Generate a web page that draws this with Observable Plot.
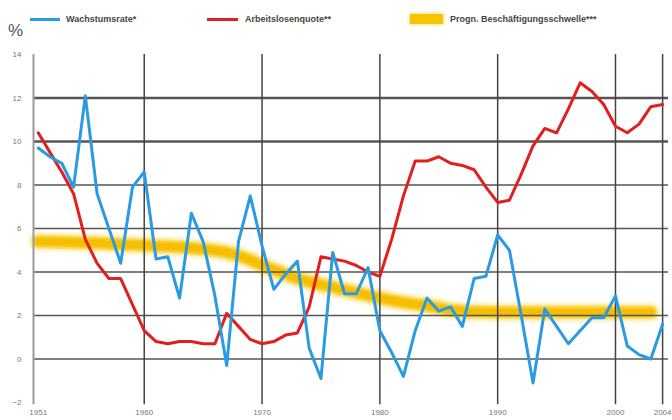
<!DOCTYPE html>
<html>
<head>
<meta charset="utf-8">
<script src="https://cdn.jsdelivr.net/npm/d3@7"></script>
<script src="https://cdn.jsdelivr.net/npm/@observablehq/plot@0.6"></script>
<style>
  html, body { margin: 0; padding: 0; background: #fff; }
  body { width: 672px; height: 420px; overflow: hidden; font-family: "Liberation Sans", Arial, sans-serif; }
  #head { position: relative; width: 672px; height: 40px; }
  #head .sw { position: absolute; }
  #head .lab { position: absolute; font-size: 9px; font-weight: bold; color: #444; line-height: 11px; white-space: nowrap; }
  #pct { position: absolute; left: 8px; top: 21px; font-size: 17px; color: #555; line-height: 19px; }
</style>
</head>
<body>
<div id="head">
  <div class="sw" style="left:30px;top:18px;width:30px;height:3px;background:#2a9be3;"></div>
  <div class="lab" style="left:66px;top:14px;">Wachstumsrate*</div>
  <div class="sw" style="left:207px;top:18px;width:31px;height:3px;background:#e0201e;"></div>
  <div class="lab" style="left:245px;top:14px;">Arbeitslosenquote**</div>
  <div class="sw" style="left:410px;top:14px;width:33px;height:10px;background:#f7c400;box-shadow:0 0 3px 1px rgba(247,196,0,0.5);"></div>
  <div class="lab" style="left:450px;top:14px;">Progn. Beschäftigungsschwelle***</div>
  <div id="pct">%</div>
</div>
<div id="chart"></div>
<script>
const years = [1951,1952,1953,1954,1955,1956,1957,1958,1959,1960,
  1961,1962,1963,1964,1965,1966,1967,1968,1969,1970,
  1971,1972,1973,1974,1975,1976,1977,1978,1979,1980,
  1981,1982,1983,1984,1985,1986,1987,1988,1989,1990,
  1991,1992,1993,1994,1995,1996,1997,1998,1999,2000,
  2001,2002,2003,2004];

const growth = [9.7,9.3,9.0,7.9,12.1,7.6,6.0,4.4,7.9,8.6,
  4.6,4.7,2.8,6.7,5.4,2.9,-0.3,5.4,7.5,5.2,
  3.2,3.9,4.5,0.5,-0.9,4.9,3.0,3.0,4.2,1.3,
  0.3,-0.8,1.3,2.8,2.2,2.4,1.5,3.7,3.8,5.7,
  5.0,2.0,-1.1,2.3,1.5,0.7,1.3,1.9,1.9,2.9,
  0.6,0.2,0.0,1.6];

const unemployment = [10.4,9.5,8.6,7.6,5.5,4.4,3.7,3.7,2.5,1.3,
  0.8,0.7,0.8,0.8,0.7,0.7,2.1,1.5,0.9,0.7,
  0.8,1.1,1.2,2.4,4.7,4.6,4.5,4.3,4.0,3.8,
  5.5,7.5,9.1,9.1,9.3,9.0,8.9,8.7,7.9,7.2,
  7.3,8.5,9.8,10.6,10.4,11.5,12.7,12.3,11.7,10.7,
  10.4,10.8,11.6,11.7];

const thresholdYears = [1951,1953,1955,1957,1959,1961,1963,1965,1967,1968,1969,1970,
  1971,1972,1973,1974,1975,1976,1977,1978,1979,1980,1981,1982,1983,1984,1985,1986,
  1987,1988,1990,1995,2000,2003];
const thresholdValues = [5.4,5.38,5.35,5.3,5.25,5.2,5.15,5.05,4.9,4.75,4.55,4.3,
  4.1,3.9,3.7,3.55,3.42,3.3,3.17,3.05,2.92,2.8,2.7,2.6,2.52,2.45,2.35,2.25,
  2.2,2.17,2.15,2.15,2.15,2.15];

const xTickLabels = [1951,1960,1970,1980,1990,2000,2004];
const verticalGrid = [1960,1970,1980,1990,2000,2004];
const yTickLabels = [-2,0,2,4,6,8,10,12,14];
const horizontalGrid = [0,2,4,6,8,10,12];
const xDomain = [1950.6, 2004.5];
const yDomain = [-2, 14];

const growthData = years.map((y, i) => ({year: y, value: growth[i]}));
const unempData = years.map((y, i) => ({year: y, value: unemployment[i]}));
const bandData = thresholdYears.map((y, i) => ({year: y, value: thresholdValues[i]}));

// layered strokes give the soft, blurred look of the threshold band
const bandLayers = [
  {w: 22, o: 0.12, c: "#fbd84a"},
  {w: 18, o: 0.22, c: "#f9d030"},
  {w: 14, o: 0.45, c: "#f8c800"},
  {w: 10, o: 0.75, c: "#f7c200"},
  {w: 6,  o: 0.9,  c: "#f5bd00"}
];

const chart = Plot.plot({
  width: 672,
  height: 380,
  marginTop: 14,
  marginBottom: 18,
  marginLeft: 33,
  marginRight: 4,
  style: {fontFamily: "'Liberation Sans', Arial, sans-serif", fontSize: "8px", color: "#777", background: "white", overflow: "visible"},
  x: {domain: xDomain, ticks: xTickLabels, tickFormat: d => String(d), tickSize: 0, tickPadding: 7, label: null},
  y: {domain: yDomain, ticks: yTickLabels, tickSize: 0, tickPadding: 12, label: null},
  marks: [
    ...bandLayers.map(l => Plot.line(bandData, {x: "year", y: "value", stroke: l.c, strokeOpacity: l.o, strokeWidth: l.w, curve: "monotone-x", strokeLinecap: "round"})),
    Plot.ruleY(horizontalGrid, {stroke: "#555", strokeWidth: d => d >= 10 ? 2.4 : 1.5}),
    Plot.ruleX(verticalGrid, {y1: -2.1, y2: 14, stroke: "#444", strokeWidth: 1.5}),
    Plot.ruleX([xDomain[0]], {y1: -2.1, y2: 14, stroke: "#9a9a9a", strokeWidth: 2}),
    Plot.line(unempData, {x: "year", y: "value", stroke: "#e0201e", strokeWidth: 3, strokeLinejoin: "round"}),
    Plot.line(growthData, {x: "year", y: "value", stroke: "#2a9be3", strokeWidth: 3, strokeLinejoin: "round"})
  ]
});

document.getElementById("chart").appendChild(chart);
</script>
</body>
</html>
